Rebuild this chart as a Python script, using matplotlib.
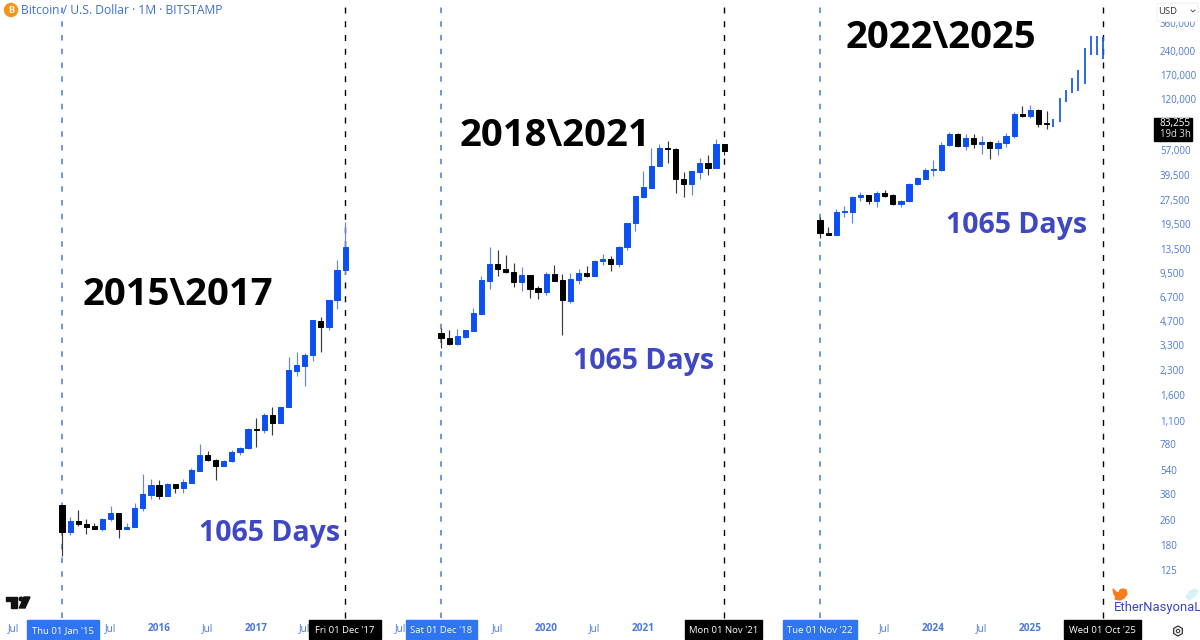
import matplotlib
matplotlib.use("Agg")
import matplotlib.pyplot as plt
from matplotlib.patches import Rectangle, Circle, Polygon, FancyBboxPatch, RegularPolygon

# ---------- data: monthly candles (USD, log axis) ----------
seg1_open  = [323,218,254,245,237,228,263,286,228,235,308,375,432,368,436,414,445,530,669,622,570,610,695,741,976,962,1197,1065,1346,2274,2445,2871,4713,4319,6401,9914]
seg1_high  = [323,270,300,263,247,266,319,286,247,334,507,469,465,443,438,469,551,786,709,628,622,720,755,986,1146,1233,1346,1346,2788,2999,2956,4783,4997,6401,11470,19957]
seg1_low   = [153,209,237,210,227,222,255,199,226,234,296,352,352,368,386,383,443,530,610,465,570,605,672,733,755,922,896,1065,1346,2114,1827,2631,2999,4134,5614,9352]
seg1_close = [218,254,244,235,228,263,286,228,235,310,377,432,368,436,414,449,535,669,622,570,610,699,741,976,962,1197,1065,1346,2307,2481,2871,4783,4319,6401,9914,13863]

seg2_open  = [3939,3679,3370,3749,4076,5243,8482,10773,10104,9629,8285,9217,7590,7161,9352,8569,6337,8569,9447,9123,11253,11639,10773,13802,19580,28866,32915,45167,58729,57878,37209,34893,41400,47187,43500,61980]
seg2_high  = [4238,4134,4195,4134,5671,9083,13924,13270,12337,10930,10403,9217,7885,9586,10616,9311,9530,10060,10509,11470,12518,12158,14129,19580,29160,41994,58466,62253,65328,58985,41386,42200,50533,52790,66680,62250]
seg2_low   = [3179,3321,3321,3679,4076,5243,7482,9083,9447,7771,7330,6563,6467,6885,8482,3843,6154,8083,8952,9043,10616,9815,10403,13270,17580,28448,32915,45167,46978,30330,28740,29458,37370,39787,43500,53030]
seg2_close = [3679,3370,3788,4115,5273,8569,10773,10016,9586,8285,9217,7548,7161,9352,8482,6401,8657,9447,9043,11355,11690,10773,13924,19580,29160,33106,45167,58985,57640,37209,34893,41810,47391,43871,61980,56470]

seg3_open  = [20550,17072,16510,23190,23190,28613,29458,27100,30460,29590,25840,26990,34590,37560,42610,42610,60980,71720,60460,67670,62560,64380,58985,63180,69650,96410,93000,102200,84560]
seg3_high  = [21372,18472,24025,25319,29290,31050,29750,31500,31970,30150,27510,35250,38660,44100,49300,63810,73840,72770,71720,71720,69960,65328,66300,73360,99700,108300,109400,103250,100300]
seg3_low   = [15738,16440,16440,21372,19753,27233,26068,24740,28866,25580,24930,26850,34240,37370,39040,42190,60460,59850,57290,58985,54040,49810,53030,59600,67960,92300,90580,79420,77150]
seg3_close = [17072,16510,23190,23520,28613,29458,27100,30597,29290,25840,27100,34740,37750,42400,43050,61350,71720,60460,67670,62560,64380,58729,63180,69960,96410,93230,102200,83700,83330]

# projected thin bars at the end of the third window
proj_month = [28.84,29.63,30.41,31.15,31.93,32.75,33.5,34.24,35.0]
proj_high  = [89640,121200,136200,162300,182300,251300,300600,300600,295000]
proj_low   = [79420,85430,115350,131500,135400,149300,229000,227900,216000]

# window starts on the month scale, window length in months
seg_start = [0, 46.85, 93.7]
seg_len = 35
window_labels = ["2015\\2017", "2018\\2021", "2022\\2025"]
days_label = "1065 Days"

price_ticks = [125,180,260,380,540,780,1100,1600,2300,3300,4700,6700,9500,13500,19500,27500,39500,57000,120000,170000,240000,360000]
time_ticks = [(0,-6,"Jul"),(0,6,"Jul"),(0,12,"2016"),(0,18,"Jul"),(0,24,"2017"),(0,30,"Jul"),
              (1,-5,"Jul"),(1,7,"Jul"),(1,13,"2020"),(1,19,"Jul"),(1,25,"2021"),
              (2,8,"Jul"),(2,14,"2024"),(2,20,"Jul"),(2,26,"2025")]
start_dates = ["Thu 01 Jan '15", "Sat 01 Dec '18", "Tue 01 Nov '22"]
end_dates = ["Fri 01 Dec '17", "Mon 01 Nov '21", "Wed 01 Oct '25"]

BLUE = "#0d50f2"
BLACK = "#000000"
AXIS_BLUE = "#4a78d8"
UI = "Open Sans"

fig = plt.figure(figsize=(12, 6.4), dpi=100, facecolor="white")
ax = fig.add_axes([0, 0, 1, 1])
ax.set_yscale("log")
ax.set_xlim(-7.664, 140.67)
ax.set_ylim(45.05, 507000)
for s in ax.spines.values():
    s.set_visible(False)
ax.minorticks_off()


def candles(start, o, h, l, c):
    for i in range(len(o)):
        col = BLUE if c[i] >= o[i] else BLACK
        wick = "#5f86ee" if c[i] >= o[i] else "#3a3a3a"
        x = start + i
        ax.vlines(x, l[i], h[i], color=wick, lw=0.85, zorder=3)
        ax.bar(x, abs(c[i] - o[i]), bottom=min(o[i], c[i]), width=0.64, color=col,
               edgecolor=col, linewidth=0.7, zorder=4)


candles(seg_start[0], seg1_open, seg1_high, seg1_low, seg1_close)
candles(seg_start[1], seg2_open, seg2_high, seg2_low, seg2_close)
candles(seg_start[2], seg3_open, seg3_high, seg3_low, seg3_close)
ax.vlines([seg_start[2] + m for m in proj_month], proj_low, proj_high, color="#1c5cf0", lw=1.3, zorder=4)

# window boundaries
for st in seg_start:
    ax.plot([st, st], [62, 507000], color="#3f7fd9", lw=1.1, ls=(0, (3.6, 5.4)), zorder=2)
    ax.plot([st + seg_len] * 2, [62, 507000], color="black", lw=1.0, ls=(0, (4.3, 5.6)), zorder=2)

# axes with labels inside the picture
ax.yaxis.tick_right()
ax.set_yticks(price_ticks)
ax.set_yticklabels([f"{v:,}" for v in price_ticks], fontfamily=UI, fontsize=7.0, color=AXIS_BLUE, ha="left")
ax.tick_params(axis="y", which="both", length=0, pad=-28.8)
ax.set_xticks([seg_start[s] + m for s, m, _ in time_ticks])
ax.set_xticklabels([t for _, _, t in time_ticks], fontfamily=UI, fontsize=7.2, color=AXIS_BLUE)
for lab in ax.get_xticklabels():
    if lab.get_text() != "Jul":
        lab.set_fontweight("bold")
ax.tick_params(axis="x", length=0, pad=-12.5)
ax.yaxis.set_minor_locator(matplotlib.ticker.NullLocator())

# overlay in picture pixels for the interface pieces and pasted text
ov = fig.add_axes([0, 0, 1, 1], facecolor="none")
ov.set_xlim(0, 1200)
ov.set_ylim(640, 0)
ov.axis("off")

# header
ov.add_patch(Circle((11, 10), 6.5, color="#f7931a", zorder=5))
ov.text(11, 10.3, "B", color="#fff0d8", fontsize=6, fontweight="bold", ha="center", va="center", fontfamily="DejaVu Sans", zorder=6)
ov.text(21, 10, "Bitcoin / U.S. Dollar · 1M · BITSTAMP", color="#3f6fd0", fontsize=8.7, va="center", fontfamily="Open Sans")

# big labels
for cx, cy, t in [(177.5, 295, window_labels[0]), (554.5, 136, window_labels[1]), (940.5, 38, window_labels[2])]:
    ov.text(cx, cy, t, fontsize=27.5, fontweight="bold", color="black", ha="center", va="center", fontfamily="Open Sans")
for cx, cy in [(270, 533), (644, 362), (1017, 225)]:
    ov.text(cx, cy, days_label, fontsize=20.5, fontweight="bold", color="#3f48c4", ha="center", va="center", fontfamily="Open Sans")

# date pills
for (x0, x1), t in zip([(27, 99), (406, 477), (783, 857)], start_dates):
    ov.add_patch(Rectangle((x0, 620), x1 - x0, 19, color="#2f74f0", zorder=6))
    ov.text((x0 + x1) / 2, 630.5, t, color="white", fontsize=6.8, ha="center", va="center", fontfamily=UI, zorder=7)
for (x0, x1), t in zip([(309, 381), (685, 762), (1064, 1141)], end_dates):
    ov.add_patch(Rectangle((x0, 620), x1 - x0, 19, color="black", zorder=6))
    ov.text((x0 + x1) / 2, 630.5, t, color="white", fontsize=6.8, ha="center", va="center", fontfamily=UI, zorder=7)

# price tag
ov.add_patch(Rectangle((1154, 118), 38, 23, color="black", zorder=6))
ov.text(1175, 123.5, "83,255", color="white", fontsize=7.2, ha="center", va="center", fontfamily=UI, zorder=7)
ov.text(1175, 134.5, "19d 3h", color="#dddddd", fontsize=6.9, ha="center", va="center", fontfamily=UI, zorder=7)

# currency box
ov.add_patch(FancyBboxPatch((1157, 3), 41, 18.5, boxstyle="round,pad=0,rounding_size=2", fc="white", ec="#f0f0f0", lw=0.8, zorder=6))
ov.text(1168, 11, "USD", color="#333333", fontsize=6.8, ha="center", va="center", fontfamily=UI, zorder=7)
ov.plot([1191, 1193, 1195], [10, 12, 10], color="#555555", lw=0.7, zorder=7)

# TradingView mark
ov.add_patch(Polygon([(6, 597), (16.7, 597), (16.7, 608), (11, 608), (11, 601), (6, 601)], color="#111111", zorder=5))
ov.add_patch(Polygon([(24, 597), (30, 597), (25, 608), (19.3, 608)], color="#111111", zorder=5))
ov.add_patch(Circle((21, 599), 1.8, color="#111111", zorder=5))

# signature
ov.add_patch(Polygon([(1113, 589), (1116, 592), (1119, 593), (1120, 590), (1123, 589), (1126, 590), (1127, 594),
                      (1124, 598), (1120, 600), (1115, 599), (1116, 597), (1114, 594)], color="#f57c1c", zorder=5))
ov.add_patch(Polygon([(1186, 597), (1189, 592), (1195, 589), (1198, 591), (1194, 597), (1189, 600)], color="#d6f2f5", zorder=5))
ov.text(1113.5, 607, "EtherNasyonaL", color="#3a44c8", fontsize=9.4, va="center", ha="left",
        fontfamily="Roboto", zorder=6)

# settings glyph
ov.add_patch(RegularPolygon((1178, 631), 6, radius=5, fc="white", ec="#333333", lw=0.9, zorder=5))
ov.add_patch(Circle((1178, 631), 1.7, fc="white", ec="#333333", lw=0.8, zorder=6))

fig.savefig("out.png", dpi=100)
